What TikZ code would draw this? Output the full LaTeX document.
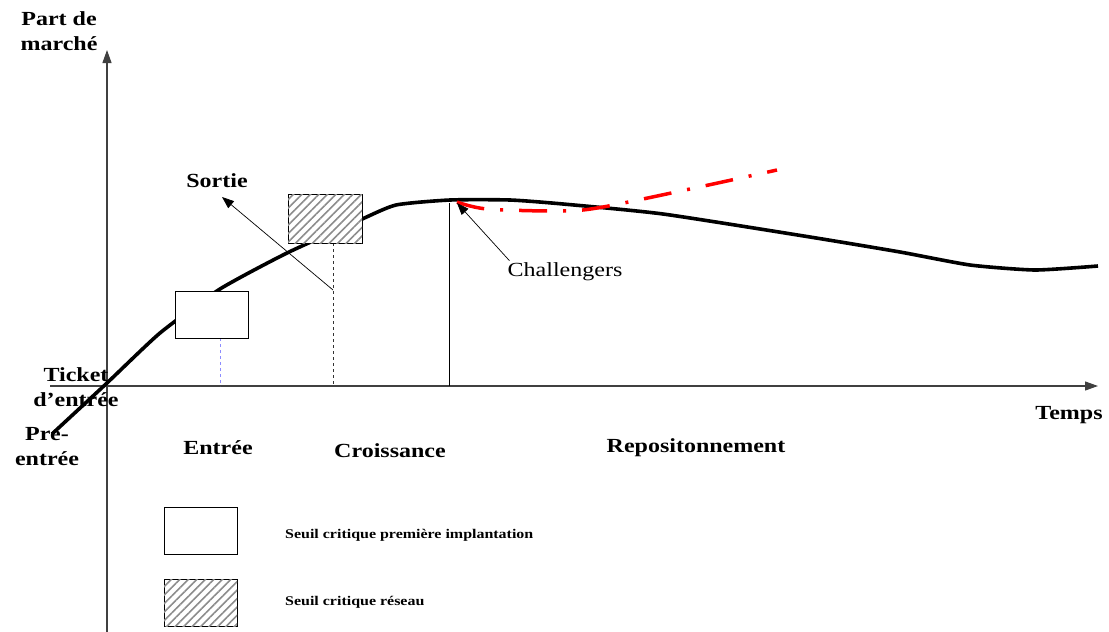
\documentclass[tikz,border=0pt]{standalone}
\usepackage{fontspec}
\setmainfont[FakeStretch=1.2]{Liberation Serif}
\usetikzlibrary{arrows.meta,patterns.meta}
\begin{document}
\begin{tikzpicture}[x=1pt,y=-1pt,
  axis/.style={draw=black!75,line width=1.2pt,-{Triangle[length=13pt,width=9pt]}},
  lbl/.style={font=\fontsize{20}{25}\selectfont\bfseries,align=center,inner sep=0pt},
  leg/.style={font=\fontsize{13.3}{16}\selectfont\bfseries,anchor=west,inner sep=0pt},
  plainbox/.style={draw=black,line width=0.9pt,fill=white,inner sep=0pt},
  hatchbox/.style={draw=black,line width=0.9pt,fill=white,inner sep=0pt,
     postaction={pattern={Lines[angle=45,distance=6pt,line width=1.6pt]},pattern color=black!45}},
  thin arrow/.style={draw=black,line width=0.7pt,-{Triangle[length=12pt,width=9pt]}}
]
\useasboundingbox (0,0) rectangle (1109,632);
% axes
\coordinate (yb) at (107,632);
\coordinate (yt) at (107,50);
\coordinate (xl) at (50,386);
\coordinate (xr) at (1098,386);
\draw[axis] (yb) -- (yt);
\draw[axis] (xl) -- (xr);
% guide lines
\draw[dashed,draw=blue!45,line width=0.7pt] (220,338) -- (220,386);
\draw[dashed,draw=black!80,line width=0.7pt] (333,243) -- (333,386);
\draw[draw=black,line width=0.8pt] (449,203) -- (449,386);
% main curve
\draw[line width=3.6pt,line join=round] plot[smooth,tension=0.35] coordinates {
 (52,434) (107,383) (160,333) (220,289) (287,253) (360,220) (396,205) (450,200)
 (510,200) (563,204) (663,214) (810,237) (900,252) (970,265) (1035,270) (1098,266)};
% boxes
\node[plainbox,minimum width=73pt,minimum height=47pt] (b1) at (211.5,314.5) {};
\node[hatchbox,minimum width=74pt,minimum height=49pt] (b2) at (325,218.5) {};
% red challengers curve
\draw[red,line width=3.5pt,dash pattern=on 28pt off 16pt on 3pt off 16pt]
  plot[smooth,tension=0.5] coordinates {(457,202) (487,209) (563,211) (603,207) (690,189) (777,170)};
% labels
\node[lbl] (pdm) at (59,31) {Part de\\marché};
\node[lbl] (tick) at (76,387) {Ticket\\d’entrée};
\node[lbl] (pre) at (47,447) {Pre-\\entrée};
\node[lbl] (entree) at (218,448) {Entrée};
\node[lbl] (crois) at (390,451) {Croissance};
\node[lbl] (repos) at (696,448) {Repositonnement};
\node[lbl] (temps) at (1069,415) {Temps};
\node[lbl] (sortie) at (217,181) {Sortie};
\node[font=\fontsize{20}{24}\selectfont,inner sep=0pt] (chal) at (565,272) {Challengers};
% arrows
\coordinate (sortstart) at (333,290);
\draw[thin arrow] (sortstart) -- (222,197);
\coordinate (chaltip) at (457,203);
\draw[thin arrow] (chal.north west) ++(2,-2) coordinate (chalstart) -- (chaltip);
% legend
\node[plainbox,minimum width=73pt,minimum height=47pt] (l1) at (200.5,530.5) {};
\node[hatchbox,minimum width=73pt,minimum height=47pt] (l2) at (200.5,602.5) {};
\node[leg] (l1t) at (285,535) {Seuil critique première implantation};
\node[leg] (l2t) at (285,602) {Seuil critique réseau};
\end{tikzpicture}
\end{document}
